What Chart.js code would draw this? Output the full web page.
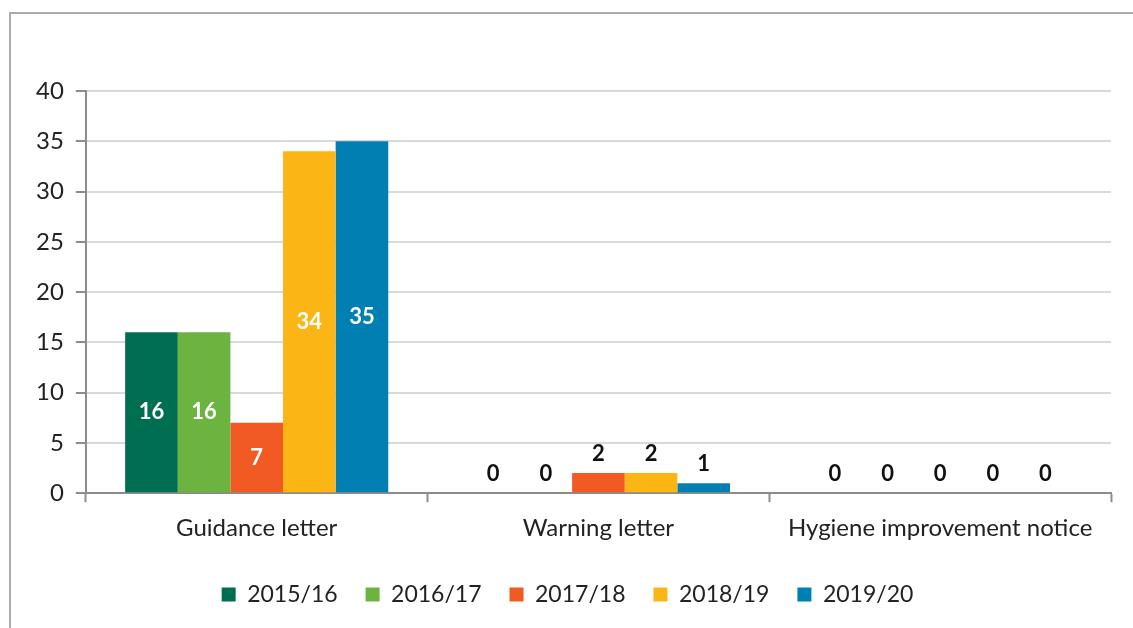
<!DOCTYPE html>
<html>
<head>
<meta charset="utf-8">
<script src="https://cdn.jsdelivr.net/npm/chart.js@4"></script>
<style>
  html, body { margin: 0; padding: 0; background: #fff; overflow: hidden; }
  #frame { position: absolute; left: 9px; top: 12px; width: 1140px; height: 640px; border: 2px solid #ababab; box-sizing: border-box; }
  #wrap { position: absolute; left: 0; top: 0; width: 1133px; height: 628px; }
</style>
</head>
<body>
<div id="frame"></div>
<div id="wrap"><canvas id="barChart"></canvas></div>
<script>
const categories = ['Guidance letter', 'Warning letter', 'Hygiene improvement notice'];
const years = ['2015/16', '2016/17', '2017/18', '2018/19', '2019/20'];
const values2015 = [16, 0, 0];
const values2016 = [16, 0, 0];
const values2017 = [7, 2, 0];
const values2018 = [34, 2, 0];
const values2019 = [35, 1, 0];
const colours = ['#006f51', '#6db33f', '#f15a22', '#fbb615', '#0080b2'];

const seriesValues = [values2015, values2016, values2017, values2018, values2019];

// Excel style labels: white in the middle of tall bars, black above short ones
const barLabels = {
  id: 'barLabels',
  afterDatasetsDraw(chart) {
    const ctx = chart.ctx;
    ctx.save();
    ctx.font = 'bold 22px Lato';
    ctx.textAlign = 'center';
    chart.data.datasets.forEach((ds, i) => {
      const meta = chart.getDatasetMeta(i);
      meta.data.forEach((bar, j) => {
        const v = ds.data[j];
        if (v > 5) {
          ctx.fillStyle = '#ffffff';
          ctx.textBaseline = 'middle';
          ctx.fillText(v, bar.x, (bar.y + bar.base) / 2);
        } else {
          ctx.fillStyle = '#111111';
          ctx.textBaseline = 'bottom';
          ctx.fillText(v, bar.x, bar.y - 8);
        }
      });
    });
    ctx.restore();
  }
};

const ctxBar = document.getElementById('barChart').getContext('2d');

const barChart = new Chart(ctxBar, {
  type: 'bar',
  data: {
    labels: categories,
    datasets: years.map((y, i) => ({
      label: y,
      data: seriesValues[i],
      backgroundColor: colours[i],
      borderWidth: 0,
      categoryPercentage: 0.77,
      barPercentage: 1
    }))
  },
  options: {
    responsive: true,
    maintainAspectRatio: false,
    animation: false,
    layout: {
      padding: { left: 24, right: 22, top: 91, bottom: 12 }
    },
    plugins: {
      tooltip: { enabled: false },
      legend: {
        position: 'bottom',
        labels: {
          boxWidth: 14,
          boxHeight: 14,
          padding: 28,
          color: '#222',
          font: { family: 'Lato', size: 23 }
        }
      }
    },
    scales: {
      x: {
        grid: {
          offset: true,
          drawOnChartArea: false,
          tickLength: 9,
          tickWidth: 2,
          tickColor: '#8c8c8c'
        },
        border: { color: '#8c8c8c', width: 2 },
        ticks: {
          color: '#222',
          padding: 12,
          maxRotation: 0,
          font: { family: 'Lato', size: 24 }
        }
      },
      y: {
        min: 0,
        max: 40,
        ticks: {
          stepSize: 5,
          color: '#222',
          padding: 12,
          font: { family: 'Lato', size: 24 }
        },
        grid: {
          color: '#d9d9d9',
          lineWidth: 2,
          tickLength: 10,
          tickColor: '#8c8c8c'
        },
        border: { color: '#8c8c8c', width: 2 }
      }
    }
  },
  plugins: [barLabels]
});
</script>
</body>
</html>
